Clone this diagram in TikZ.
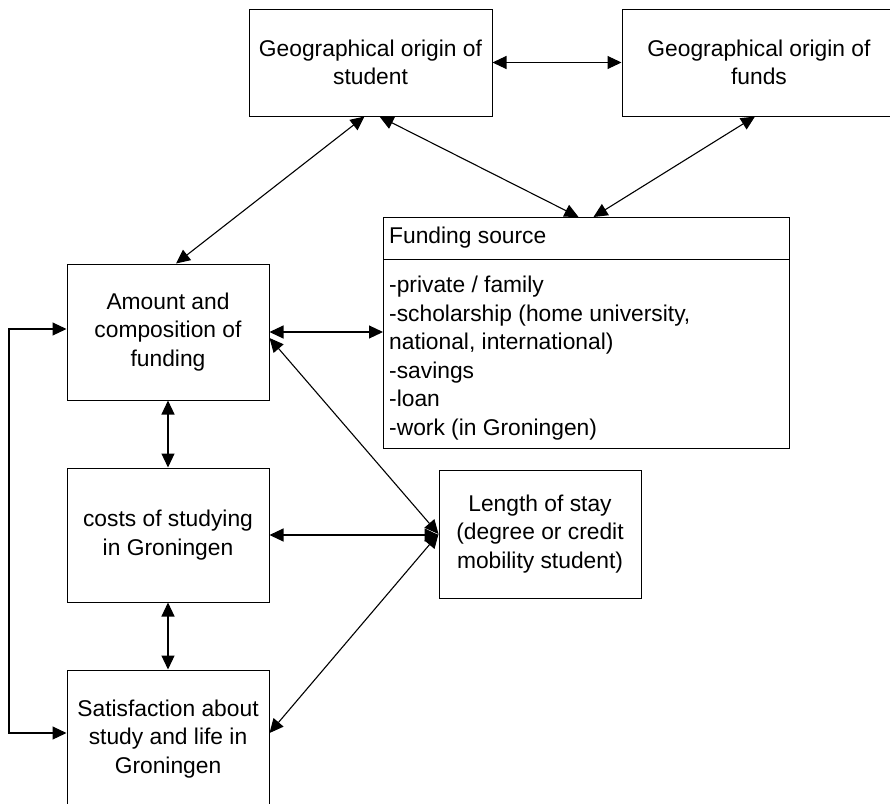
\documentclass[tikz,border=0pt]{standalone}
\usepackage{fontspec}
\setmainfont{Liberation Sans}
\usepackage{tikz}
\usetikzlibrary{arrows.meta}

\begin{document}
\begin{tikzpicture}[x=1pt, y=-1pt,
  box/.style={draw, line width=1pt, inner sep=2pt, align=center, font=\fontsize{22.8}{28.5}\selectfont},
  listtext/.style={inner sep=0pt, align=left, font=\fontsize{22.8}{28.5}\selectfont},
  link/.style={line width=1.1pt, {Triangle[length=14pt,width=13pt]}-{Triangle[length=14pt,width=13pt]}}]
\useasboundingbox (0,0) rectangle (890,803);

\node[box, minimum width=243, minimum height=107] (geostudent) at (370.5,62.5) {Geographical origin of\\student};
\node[box, minimum width=274, minimum height=107] (geofunds) at (759,62.5) {Geographical origin of\\funds};

\node[box, minimum width=406, minimum height=231, anchor=north west] (fund) at (383,217) {};
\draw[line width=1pt] ([yshift=-42pt]fund.north west) -- ([yshift=-42pt]fund.north east);
\node[listtext, anchor=base west] (fundtitle) at (389,243) {Funding source};
\node[listtext, anchor=north west] (fundlist) at (389,276) {-private / family\\-scholarship (home university,\\national, international)\\-savings\\-loan\\-work (in Groningen)};

\node[box, minimum width=202, minimum height=136] (amount) at (168,332) {Amount and\\composition of\\funding};
\node[box, minimum width=202, minimum height=134] (costs) at (168,535) {costs of studying\\in Groningen};
\node[box, minimum width=202, minimum height=138] (satisf) at (168,739) {Satisfaction about\\study and life in\\Groningen};
\node[box, minimum width=202, minimum height=128] (stay) at (540,534) {Length of stay\\(degree or credit\\mobility student)};

\coordinate (loop) at (9,530);

\draw[link] (geostudent) -- (geofunds);
\draw[link] ([xshift=-6pt]geostudent.south) -- ([xshift=8pt]amount.north);
\draw[link] ([xshift=9pt]geostudent.south) -- ([xshift=-8pt]fund.north);
\draw[link] ([xshift=-4pt]geofunds.south) -- ([xshift=7pt]fund.north);
\draw[link] (amount.east) -- (amount.east -| fund.west);
\draw[link] ([yshift=-6pt]amount.east) -- (stay.west);
\draw[link] (costs.east) -- (costs.east -| stay.west);
\draw[link] (stay.west) -- ([yshift=6pt]satisf.east);
\draw[link] (amount) -- (costs);
\draw[link] (costs) -- (satisf);
\draw[link] ([yshift=3pt]amount.west) -| (loop) |- ([yshift=6pt]satisf.west);
\end{tikzpicture}
\end{document}
